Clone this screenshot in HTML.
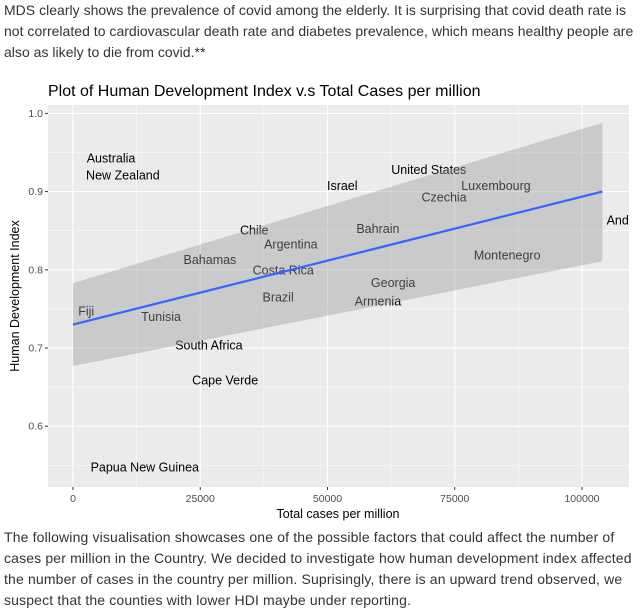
<!DOCTYPE html>
<html><head><meta charset="utf-8"><style>
body{margin:0;width:642px;height:616px;overflow:hidden;background:#fff;font-family:"Liberation Sans",sans-serif;color:#333;}
p{position:absolute;left:4px;margin:0;font-size:14px;line-height:21px;width:632px;letter-spacing:0.15px;}
#intro{letter-spacing:0.02px;width:634px;}
</style></head><body>
<p id="intro" style="top:0px">MDS clearly shows the prevalence of covid among the elderly. It is surprising that covid death rate is not correlated to cardiovascular death rate and diabetes prevalence, which means healthy people are also as likely to die from covid.**</p>
<svg id="chart" width="642" height="530" style="position:absolute;left:0;top:0" font-family="Liberation Sans, sans-serif"></svg>
<p style="top:527px">The following visualisation showcases one of the possible factors that could affect the number of cases per million in the Country. We decided to investigate how human development index affected the number of cases in the country per million. Suprisingly, there is an upward trend observed, we suspect that the counties with lower HDI maybe under reporting.</p>
<script>
const countries=["Australia","New Zealand","Israel","United States","Luxembourg","Czechia","Chile","Argentina","Bahrain","Bahamas","Costa Rica","Montenegro","Georgia","Brazil","Armenia","Fiji","Tunisia","South Africa","Cape Verde","Papua New Guinea","Andorra"];
const cases=[7470,9800,52900,69900,83100,72900,35600,42800,59900,26900,41300,85300,62900,40300,59900,2600,17300,26700,29900,14100,109200];
const hdi=[0.943,0.921,0.908,0.928,0.908,0.893,0.851,0.833,0.853,0.813,0.800,0.819,0.784,0.765,0.760,0.747,0.740,0.704,0.659,0.548,0.864];
const xTicks=[0,25000,50000,75000,100000];
const yTicks=[0.6,0.7,0.8,0.9,1.0];
const fitX=[0,104000];
const fitY=[0.730,0.900];
const bandUpper=[0.783,0.988];
const bandLower=[0.677,0.811];
const L=48,R=629,T=105,B=487;
const X=v=>73+v*(582-73)/100000;
const Y=v=>348-(v-0.7)*782;
const svg=document.getElementById('chart');
const NS='http://www.w3.org/2000/svg';
function el(t,a,p){const e=document.createElementNS(NS,t);for(const k in a)e.setAttribute(k,a[k]);(p||svg).appendChild(e);return e;}
const title=el('text',{x:48,y:96,'font-size':16,fill:'#000'});title.textContent='Plot of Human Development Index v.s Total Cases per million';


const defs=el('defs',{});const cp=el('clipPath',{id:'pc'},defs);el('rect',{x:L,y:T,width:R-L,height:B-T},cp);
const bg=el('rect',{x:L,y:T,width:R-L,height:B-T,fill:'#ebebeb'});


const g=el('g',{'clip-path':'url(#pc)'});
for(let i=0;i<xTicks.length;i++){const x=X(xTicks[i]);el('line',{x1:x,x2:x,y1:T,y2:B,stroke:'#fff','stroke-width':1.1},g);
 if(i<xTicks.length-1){const m=X((xTicks[i]+xTicks[i+1])/2);el('line',{x1:m,x2:m,y1:T,y2:B,stroke:'#fff','stroke-width':0.5},g);}}
el('line',{x1:X(-12500),x2:X(-12500),y1:T,y2:B,stroke:'#fff','stroke-width':0.5},g);
el('line',{x1:X(112500),x2:X(112500),y1:T,y2:B,stroke:'#fff','stroke-width':0.5},g);
for(let i=0;i<yTicks.length;i++){const y=Y(yTicks[i]);el('line',{x1:L,x2:R,y1:y,y2:y,stroke:'#fff','stroke-width':1.1},g);
 const m=Y(yTicks[i]-0.05);el('line',{x1:L,x2:R,y1:m,y2:m,stroke:'#fff','stroke-width':0.5},g);}
for(let i=0;i<countries.length;i++){const t=el('text',{x:X(cases[i]),y:Y(hdi[i])+4.5,'text-anchor':'middle','font-size':12.5,fill:'#000'},g);t.textContent=countries[i];
 
 }
const band=el('polygon',{points:[X(fitX[0])+','+Y(bandUpper[0]),X(fitX[1])+','+Y(bandUpper[1]),X(fitX[1])+','+Y(bandLower[1]),X(fitX[0])+','+Y(bandLower[0])].join(' '),fill:'#999','fill-opacity':0.4},g);


const line=el('line',{x1:X(fitX[0]),y1:Y(fitY[0]),x2:X(fitX[1]),y2:Y(fitY[1]),stroke:'#3366ff','stroke-width':2.2},g);


for(const v of xTicks){const x=X(v);el('line',{x1:x,x2:x,y1:B,y2:B+3,stroke:'#333'});const t=el('text',{x:x,y:B+15,'text-anchor':'middle','font-size':10.5,fill:'#4d4d4d'});t.textContent=v;
 
 }
for(const v of yTicks){const y=Y(v);el('line',{x1:L-3,x2:L,y1:y,y2:y,stroke:'#333'});const t=el('text',{x:L-5,y:y+3.5,'text-anchor':'end','font-size':10.5,fill:'#4d4d4d'});t.textContent=v.toFixed(1);
 
 }
const xt=el('text',{x:338,y:518,'text-anchor':'middle','font-size':12.5,fill:'#000'});xt.textContent='Total cases per million';


const yt=el('text',{x:0,y:0,'text-anchor':'middle','font-size':12.5,fill:'#000',transform:'translate(19,296) rotate(-90)'});yt.textContent='Human Development Index';


</script>
</body></html>
